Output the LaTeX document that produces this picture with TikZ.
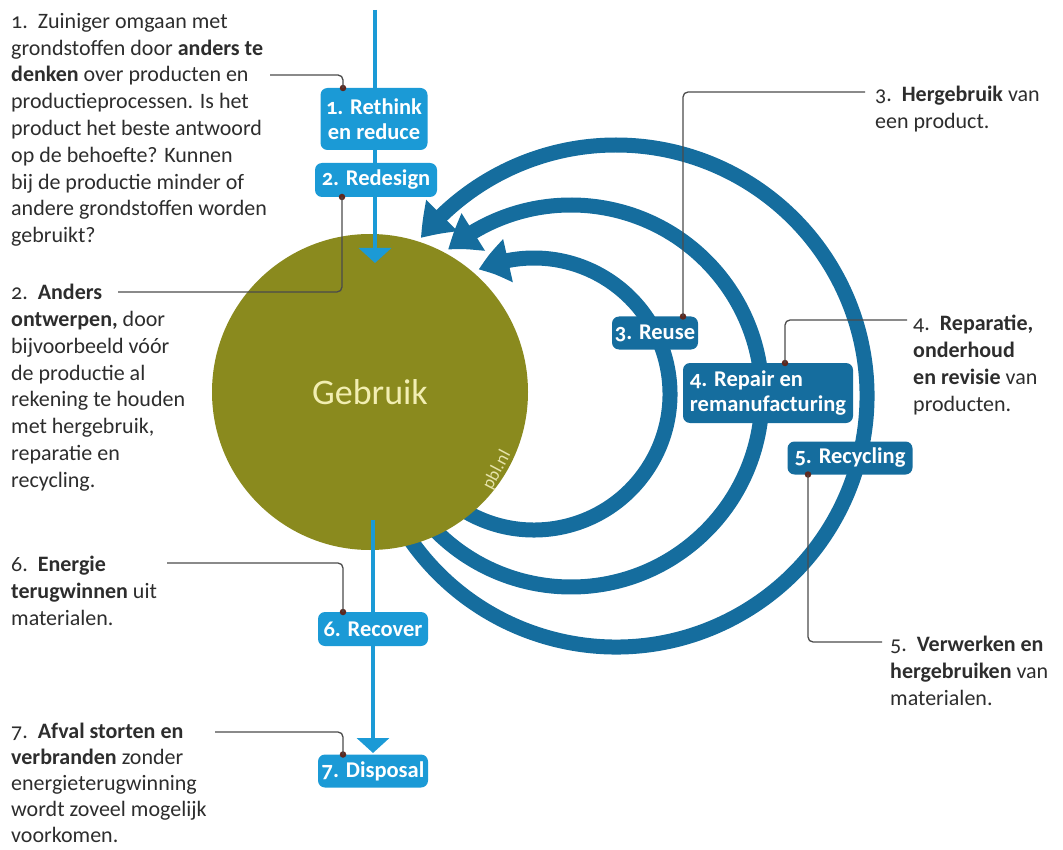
\documentclass[tikz,border=0pt]{standalone}
\usepackage{fontspec}
\setmainfont{Carlito}[Numbers=OldStyle]
\usetikzlibrary{arrows.meta,bending}
\definecolor{lblue}{RGB}{27,154,214}
\definecolor{dblue}{RGB}{21,109,158}
\definecolor{olivec}{RGB}{138,138,30}
\definecolor{cream}{RGB}{242,238,178}
\definecolor{pblc}{RGB}{230,227,170}
\definecolor{txt}{RGB}{45,45,45}
\definecolor{leadc}{RGB}{75,75,75}
\definecolor{dotc}{RGB}{95,40,30}
\tikzset{
  leader/.style={draw=leadc, line width=1.3pt, rounded corners=5pt},
  lbox/.style={fill=lblue, rounded corners=7pt, text=white, inner sep=0pt,
    font=\bfseries\fontsize{22.5}{25}\selectfont, align=center},
  dbox/.style={lbox, fill=dblue},
  desc/.style={anchor=north west, inner sep=0pt, align=left, text=txt,
    font=\fontsize{22}{26.8}\selectfont},
  arcline/.style={draw=dblue, line width=15pt, -{Triangle[length=31pt,width=42pt,bend]}},
  lbline/.style={draw=lblue, line width=4pt},
  lbarrow/.style={lbline, -{Triangle[length=15pt,width=32pt]}},
  ldot/.style={circle, fill=dotc, inner sep=0pt, minimum size=6.5pt},
}
\begin{document}
\begin{tikzpicture}[x=1pt,y=1pt]
\useasboundingbox (0,0) rectangle (1063,-850);

% return loops
\coordinate (c3) at (534,-394);
\coordinate (c4) at (571,-396);
\coordinate (c5) at (616,-396);
\draw[arcline] ([shift={(-125:136)}]c3) arc[start angle=-125, end angle=114, radius=136];
\draw[arcline] ([shift={(-140:191)}]c4) arc[start angle=-140, end angle=130, radius=191];
\draw[arcline] ([shift={(-150:251)}]c5) arc[start angle=-150, end angle=141, radius=251];

% central circle
\node[circle, fill=olivec, minimum size=316pt, inner sep=0pt, text=cream,
  font=\fontsize{36}{40}\selectfont] (g) at (370,-392) {Gebruik};
\node[rotate=62, text=pblc, inner sep=0pt, font=\fontsize{18}{18}\selectfont] (pbl) at (497,-470) {pbl.nl};

% light blue flow
\coordinate (top) at (375,-10);
\coordinate (intip) at (375,-263);
\coordinate (outstart) at (373,-520);
\coordinate (outtip) at (373,-753);
\draw[lbarrow] (top) -- (intip);
\draw[lbarrow] (outstart) -- (outtip);

% boxes
\node[lbox, minimum width=107pt, minimum height=62pt] (b1) at (374,-119) {1. Rethink\\en reduce};
\node[lbox, minimum width=122pt, minimum height=34pt] (b2) at (376,-180) {2. Redesign};
\node[lbox, minimum width=110pt, minimum height=34pt] (b6) at (373,-629) {6. Recover};
\node[lbox, minimum width=110pt, minimum height=33pt] (b7) at (373,-771) {7. Disposal};
\node[dbox, minimum width=86pt, minimum height=33pt] (b3) at (655,-333) {3. Reuse};
\node[dbox, minimum width=170pt, minimum height=60pt, align=left] (b4) at (768,-393) {4. Repair en\\remanufacturing};
\node[dbox, minimum width=125pt, minimum height=33pt] (b5) at (850,-458) {5. Recycling};

% descriptions
\node[desc] (t1) at (11,-13) {1.\ \ Zuiniger omgaan met\\grondstoffen door \textbf{anders te}\\\textbf{denken} over producten en\\productieprocessen. Is het\\product het beste antwoord\\op de behoefte? Kunnen\\bij de productie minder of\\andere grondstoffen worden\\gebruikt?};
\node[desc] (t2) at (11,-284) {2.\ \ \textbf{Anders}\\\textbf{ontwerpen,} door\\bijvoorbeeld vóór\\de productie al\\rekening te houden\\met hergebruik,\\reparatie en\\recycling.};
\node[desc] (t6) at (11,-556) {6.\ \ \textbf{Energie}\\\textbf{terugwinnen} uit\\materialen.};
\node[desc, font=\fontsize{22}{26}\selectfont] (t7) at (11,-723) {7.\ \ \textbf{Afval storten en}\\\textbf{verbranden} zonder\\energieterugwinning\\wordt zoveel mogelijk\\voorkomen.};
\node[desc] (t3) at (875,-86) {3.\ \ \textbf{Hergebruik} van\\een product.};
\node[desc] (t4) at (913,-315) {4.\ \ \textbf{Reparatie,}\\\textbf{onderhoud}\\\textbf{en revisie} van\\producten.};
\node[desc] (t5) at (890,-636) {5.\ \ \textbf{Verwerken en}\\\textbf{hergebruiken} van\\materialen.};

% leader lines
\coordinate (l1) at (270,-75);
\coordinate (l2) at (118,-292);
\coordinate (l3) at (865,-92);
\coordinate (l4) at (907,-320);
\coordinate (l5) at (882,-642);
\coordinate (l6) at (167,-563);
\coordinate (l7) at (215,-732);
\node[ldot] (d1) at (343,-88) {};
\node[ldot] (d2) at (342,-197) {};
\node[ldot] (d3) at (683,-316.5) {};
\node[ldot] (d4) at (785,-363) {};
\node[ldot] (d5) at (808,-474.5) {};
\node[ldot] (d6) at (343,-612) {};
\node[ldot] (d7) at (343,-754.5) {};
\draw[leader] (l1) -| (d1.center);
\draw[leader] (l2) -| (d2.center);
\draw[leader] (l3) -| (d3.center);
\draw[leader] (l4) -| (d4.center);
\draw[leader] (l5) -| (d5.center);
\draw[leader] (l6) -| (d6.center);
\draw[leader] (l7) -| (d7.center);
\end{tikzpicture}
\end{document}
